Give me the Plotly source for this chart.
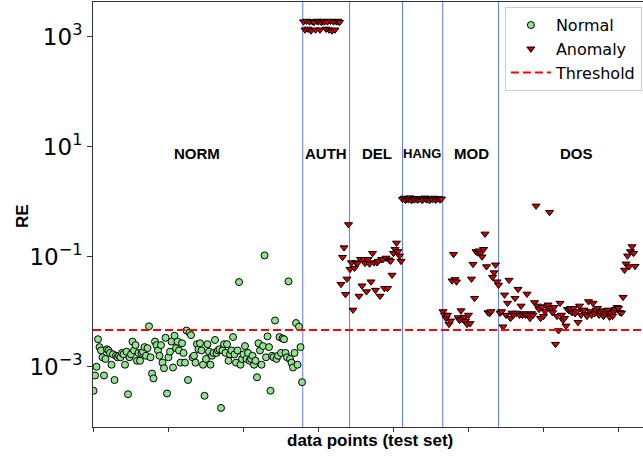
import numpy as np
import plotly.graph_objects as go

# ---------------- data (reconstruction error per test sample) ----------------
normal_re = [
    0.00037, 0.00070, 0.00101, 0.0032, 0.0023, 0.0020, 0.0015, 0.0007, 0.0014, 0.0021,
    0.0020, 0.0018, 0.0011, 0.0017, 0.00058, 0.0016, 0.0015, 0.0016, 0.0015, 0.0018,
    0.0017, 0.0011, 0.0019, 0.00032, 0.0015, 0.0017, 0.0029, 0.0020, 0.0025, 0.0013,
    0.0018, 0.0013, 0.0018, 0.0019, 0.0023, 0.0016, 0.0022, 0.0055, 0.0015, 0.00076,
    0.00062, 0.0029, 0.0025, 0.0020, 0.0016, 0.0025, 0.0012, 0.00095, 0.0034, 0.00033,
    0.0015, 0.0019, 0.0029, 0.00098, 0.0037, 0.0022, 0.0029, 0.0020, 0.0012, 0.0027,
    0.0018, 0.0012, 0.0046, 0.00058, 0.0042, 0.0038, 0.0015, 0.0016, 0.0012, 0.0026,
    0.0021, 0.0027, 0.0020, 0.0011, 0.00030, 0.0014, 0.0026, 0.0019, 0.0011, 0.0016,
    0.0018, 0.0031, 0.0018, 0.0020, 0.0021, 0.00018, 0.0020, 0.0026, 0.0018, 0.0026,
    0.0013, 0.0017, 0.0020, 0.0035, 0.0017, 0.0012, 0.0020, 0.035, 0.0011, 0.0014,
    0.0017, 0.0024, 0.0014, 0.0018, 0.0013, 0.0014, 0.0016, 0.0011, 0.0013, 0.00065,
    0.0027, 0.0020, 0.0011, 0.0024, 0.107, 0.0015, 0.0036, 0.0023, 0.00037, 0.0016,
    0.0015, 0.0070, 0.0014, 0.0016, 0.0035, 0.0018, 0.0033, 0.0032, 0.0018, 0.0015,
    0.036, 0.0014, 0.0012, 0.00098, 0.0018, 0.0063, 0.0011, 0.0054, 0.0023, 0.00053,
]

auth_re = [1900, 1350, 1950, 1400, 1900, 1300, 1900, 1850, 1350, 1950, 1900, 1350, 1850,
           1950, 1900, 1400, 1900, 1350, 1950, 1300, 1900, 1350, 1900, 1950, 1850]

del_re = [0.032, 0.099, 0.148, 0.021, 0.040, 0.39, 0.060, 0.079, 0.0109, 0.063, 0.079, 0.077,
          0.0195, 0.091, 0.030, 0.091, 0.077, 0.0235, 0.091, 0.075, 0.0355, 0.117, 0.079,
          0.025, 0.079, 0.084, 0.0195, 0.091, 0.091, 0.027, 0.096, 0.027, 0.089, 0.084,
          0.047, 0.117, 0.138, 0.18, 0.126, 0.105, 0.084]

hang_re = [1.12, 1.18, 1.08, 1.15, 1.10, 1.20, 1.07, 1.14, 1.10, 1.17, 1.09, 1.13, 1.16, 1.08,
           1.12, 1.19, 1.10, 1.14, 1.07, 1.15, 1.11, 1.18, 1.09, 1.13, 1.16, 1.10, 1.14]

mod_re = [0.0102, 0.0088, 0.0077, 0.0088, 0.0060, 0.0069, 0.037, 0.112, 0.039, 0.0355,
          0.0079, 0.0071, 0.0106, 0.0073, 0.0081, 0.0069, 0.0060, 0.0088, 0.0062, 0.040,
          0.074, 0.0178, 0.126, 0.12, 0.13, 0.117, 0.101, 0.138, 0.263, 0.067, 0.0098,
          0.0094, 0.0102, 0.043, 0.052, 0.072, 0.0355]

dos_re = [0.031, 0.0096, 0.0102, 0.0054, 0.0205, 0.0088, 0.0145, 0.038, 0.0077, 0.0096,
          0.0088, 0.0178, 0.0096, 0.026, 0.0088, 0.0129, 0.0088, 0.0094, 0.0088, 0.0213,
          0.0088, 0.0077, 0.0094, 0.0088, 0.0149, 0.85, 0.0129, 0.0112, 0.0077, 0.0122,
          0.0084, 0.0102, 0.0126, 0.0135, 0.65, 0.0117, 0.0098, 0.0122, 0.0026, 0.0084,
          0.0046, 0.0145, 0.0088, 0.0071, 0.0077, 0.0056, 0.0112, 0.0106, 0.0117, 0.0098,
          0.0117, 0.0094, 0.0102, 0.0065, 0.0129, 0.0088, 0.0106, 0.0109, 0.0091, 0.0084,
          0.0155, 0.0102, 0.0088, 0.0145, 0.0094, 0.0109, 0.0117, 0.0088, 0.0098, 0.0105,
          0.0084, 0.0094, 0.0106, 0.0109, 0.0081, 0.0096, 0.0084, 0.0102, 0.0112, 0.0122,
          0.0117, 0.0098, 0.0096, 0.0186, 0.058, 0.075, 0.105, 0.067, 0.126, 0.155,
          0.117, 0.068]

threshold = 0.0047
segment_names = ["NORM", "AUTH", "DEL", "HANG", "MOD", "DOS"]
segment_label_x = [69, 155, 189, 219, 252, 322]
boundaries = [139.5, 170.7, 206, 232.8, 270]

# ---------------- build ----------------
anomaly_re = auth_re + del_re + hang_re + mod_re + dos_re
x_normal = np.arange(len(normal_re))
x_anom = np.arange(len(normal_re), len(normal_re) + len(anomaly_re))

W, H = 643, 461
ML, MR, MT, MB = 93, 0, 2, 34
x_range = [-0.33, 366.3]

fig = go.Figure()
fig.add_trace(go.Scatter(
    x=x_normal, y=normal_re, mode="markers", name="Normal",
    marker=dict(symbol="circle", size=7, color="#8fe38f", line=dict(color="black", width=1)),
))
fig.add_trace(go.Scatter(
    x=x_anom, y=anomaly_re, mode="markers", name="Anomaly",
    marker=dict(symbol="triangle-down", size=7, color="#d00000", line=dict(color="black", width=1)),
))
fig.add_trace(go.Scatter(
    x=x_range, y=[threshold, threshold], mode="lines", name="Threshold",
    line=dict(color="red", width=2, dash="8px,4px"),
))

for b in boundaries:
    fig.add_shape(type="line", xref="x", yref="paper", x0=b, x1=b, y0=0, y1=1,
                  line=dict(color="rgba(40,80,255,0.75)", width=1), layer="below")

for name, lx in zip(segment_names, segment_label_x):
    fig.add_annotation(x=lx, y=0.89, xref="x", yref="y", text=f"<b>{name}</b>",
                       showarrow=False,
                       font=dict(family="Liberation Sans, Arial", size=13 if name == "HANG" else 15,
                                 color="black"))

plot_w = W - ML - MR
plot_h = H - MT - MB
fig.add_annotation(x=(22 - ML) / plot_w, y=1 - (216 - MT) / plot_h, xref="paper", yref="paper",
                   xanchor="center", yanchor="middle",
                   text="<b>RE</b>", textangle=-90, showarrow=False,
                   font=dict(family="Liberation Sans, Arial", size=17, color="black"))
fig.add_annotation(x=(370 - ML) / plot_w, y=-(440 - (H - MB)) / plot_h, xref="paper", yref="paper",
                   xanchor="center", yanchor="middle",
                   text="<b>data points (test set)</b>", showarrow=False,
                   font=dict(family="Liberation Sans, Arial", size=17, color="black"))

fig.update_xaxes(range=x_range, tick0=0, dtick=50, ticks="outside", ticklen=4,
                 tickcolor="#333", showticklabels=False, showline=True, mirror=True,
                 linecolor="#333", linewidth=1, showgrid=False, zeroline=False)
fig.update_yaxes(type="log", range=[-4.091, 3.636],
                 tickvals=[1e-3, 1e-1, 1e1, 1e3],
                 ticktext=["10<sup>−3</sup>", "10<sup>−1</sup>", "10<sup>1</sup>", "10<sup>3</sup>"],
                 ticks="outside", ticklen=5, tickcolor="#333", showline=True, linecolor="#333",
                 linewidth=1, showgrid=False, zeroline=False,
                 tickfont=dict(family="DejaVu Sans", size=23, color="black"))

fig.update_layout(
    width=W, height=H, margin=dict(l=ML, r=MR, t=MT, b=MB),
    paper_bgcolor="white", plot_bgcolor="white",
    showlegend=True,
    legend=dict(x=0.998, y=0.988, xanchor="right", yanchor="top",
                bgcolor="rgba(255,255,255,0.85)", bordercolor="#cccccc", borderwidth=1,
                font=dict(family="DejaVu Sans", size=16, color="black"),
                itemsizing="trace", itemwidth=40),
)

fig.write_html("out.html")
